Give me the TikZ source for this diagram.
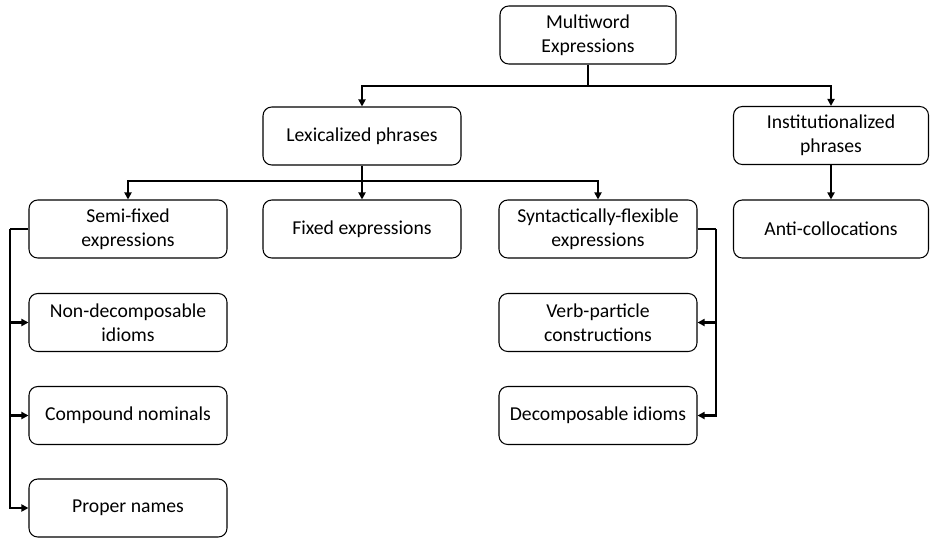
\documentclass[tikz,border=0pt]{standalone}
\usepackage{fontspec}
\setmainfont{Carlito}
\usetikzlibrary{arrows.meta}

\begin{document}
\begin{tikzpicture}[
    box/.style={draw,rounded corners=5pt,line width=0.6pt,align=center,
      minimum width=3.96cm,minimum height=1.16cm,inner sep=2pt,
      font=\fontsize{11.2}{13.8}\selectfont},
    link/.style={line width=1.4pt},
    arr/.style={line width=1.4pt,-{Triangle[length=4pt,width=4pt]}}]
  \useasboundingbox (0,0) rectangle (18.6,-10.74);
    \node (mwe) at (11.76,-0.70) [box,minimum width=3.52cm] {Multiword\\Expressions};
    \node (lex) at (7.24,-2.72) [box] {Lexicalized phrases};
    \node (inst) at (16.62,-2.71) [box,minimum width=3.9cm] {Institutionalized\\phrases};
    \node (semi) at (2.56,-4.58) [box] {Semi-fixed\\expressions};
    \node (fixed) at (7.24,-4.58) [box] {Fixed expressions};
    \node (synt) at (11.96,-4.58) [box] {Syntactically-flexible\\expressions};
    \node (anti) at (16.62,-4.58) [box,minimum width=3.9cm] {Anti-collocations};
    \node (nondec) at (2.56,-6.45) [box] {Non-decomposable\\idioms};
    \node (verb) at (11.96,-6.45) [box] {Verb-particle\\constructions};
    \node (comp) at (2.56,-8.31) [box] {Compound nominals};
    \node (decomp) at (11.96,-8.31) [box] {Decomposable idioms};
    \node (proper) at (2.56,-10.16) [box] {Proper names};
    % junctions
    \coordinate (j1) at (11.76,-1.72);
    \coordinate (j2) at (7.24,-3.62);
    \coordinate (js) at (0.2,-4.58);
    \coordinate (jf) at (14.32,-4.58);
   \draw[link] (mwe.south) -- (j1);
   \draw[arr] (j1) -| (lex.north);
   \draw[arr] (j1) -| (inst.north);
   \draw[arr] (inst) -- (anti);
   \draw[link] (lex.south) -- (j2);
   \draw[arr] (j2) -| (semi.north);
   \draw[arr] (j2) -- (fixed.north);
   \draw[arr] (j2) -| (synt.north);
   \draw[link] (semi.west) -- (js);
   \draw[arr] (js) |- (nondec.west);
   \draw[arr] (js) |- (comp.west);
   \draw[arr] (js) |- (proper.west);
   \draw[link] (synt.east) -- (jf);
   \draw[arr] (jf) |- (verb.east);
   \draw[arr] (jf) |- (decomp.east);
  \end{tikzpicture}
\end{document}
